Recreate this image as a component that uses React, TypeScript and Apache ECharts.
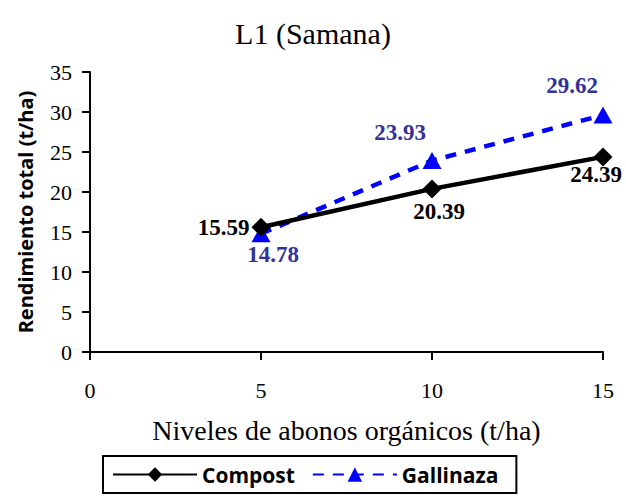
import React, { useEffect, useRef } from "react";
import * as echarts from "echarts";

const levels = [5, 10, 15];
const compost = [15.59, 20.39, 24.39];
const gallinaza = [14.78, 23.93, 29.62];
const compostLabelPos = ["left", "bottom", "bottom"];
const compostLabelOffset = [[0, 0], [7, 0], [-7, -5]];
const gallLabelPos = ["bottom", "top", "top"];
const gallLabelOffset = [[12, -2], [-32, -5], [-31, -7]];

export default function App() {
  const ref = useRef<HTMLDivElement>(null);
  useEffect(() => {
    const chart = echarts.init(ref.current!, null, { renderer: "svg" });
    const serif = "'Liberation Serif', 'Times New Roman', serif";
    const sans = "'Open Sans', 'Liberation Sans', sans-serif";
    chart.setOption({
      animation: false,
      backgroundColor: "#fff",
      title: {
        text: "L1 (Samana)",
        left: "center",
        top: 13,
        textStyle: { fontFamily: serif, fontSize: 30, fontWeight: "normal", color: "#000" },
      },
      grid: { left: 90, right: 23, top: 72, bottom: 149, containLabel: false },
      xAxis: {
        type: "value",
        min: 0,
        max: 15,
        interval: 5,
        name: "Niveles de abonos orgánicos (t/ha)",
        nameLocation: "middle",
        nameGap: 64,
        nameTextStyle: { fontFamily: serif, fontSize: 28, color: "#000" },
        axisLine: { onZero: false, lineStyle: { color: "#000", width: 2 } },
        axisTick: { show: true, length: 8, lineStyle: { color: "#000", width: 2 } },
        axisLabel: { fontFamily: serif, fontSize: 22, color: "#000", margin: 27 },
        splitLine: { show: false },
      },
      yAxis: {
        type: "value",
        min: 0,
        max: 35,
        interval: 5,
        name: "Rendimiento total (t/ha)",
        nameLocation: "middle",
        nameGap: 55,
        nameTextStyle: { fontFamily: sans, fontSize: 20, fontWeight: "bold", color: "#000" },
        axisLine: { show: true, lineStyle: { color: "#000", width: 2 } },
        axisTick: { show: true, length: 8, lineStyle: { color: "#000", width: 2 } },
        axisLabel: { fontFamily: serif, fontSize: 22, color: "#000", margin: 18 },
        splitLine: { show: false },
      },
      legend: {
        left: 103,
        top: 456,
        itemWidth: 84,
        itemHeight: 18,
        itemGap: 17,
        padding: [8, 18, 8, 9],
        borderColor: "#000",
        borderWidth: 2,
        textStyle: { fontFamily: sans, fontSize: 21, fontWeight: "bold", color: "#000" },
        data: ["Compost", "Gallinaza"],
      },
      series: [
        {
          name: "Compost",
          type: "line",
          data: levels.map((x, i) => ({
            value: [x, compost[i]],
            label: { position: compostLabelPos[i], offset: compostLabelOffset[i] },
          })),
          symbol: "diamond",
          symbolSize: 19,
          itemStyle: { color: "#000" },
          lineStyle: { color: "#000", width: 4.5 },
          label: {
            show: true,
            distance: 2,
            fontFamily: serif,
            fontSize: 23,
            fontWeight: "bold",
            color: "#000",
            formatter: (p: any) => p.value[1].toFixed(2),
          },
          z: 3,
        },
        {
          name: "Gallinaza",
          type: "line",
          data: levels.map((x, i) => ({
            value: [x, gallinaza[i]],
            label: { position: gallLabelPos[i], offset: gallLabelOffset[i] },
          })),
          symbol: "triangle",
          symbolSize: [19, 17],
          itemStyle: { color: "#0000ff" },
          lineStyle: { color: "#0000ff", width: 4.5, type: [11, 9] },
          label: {
            show: true,
            distance: 3,
            fontFamily: serif,
            fontSize: 23,
            fontWeight: "bold",
            color: "#333399",
            formatter: (p: any) => p.value[1].toFixed(2),
          },
          z: 2,
        },
      ],
    });
    return () => chart.dispose();
  }, []);
  return <div ref={ref} style={{ width: 626, height: 501, position: "absolute", left: 0, top: 0 }} />;
}
